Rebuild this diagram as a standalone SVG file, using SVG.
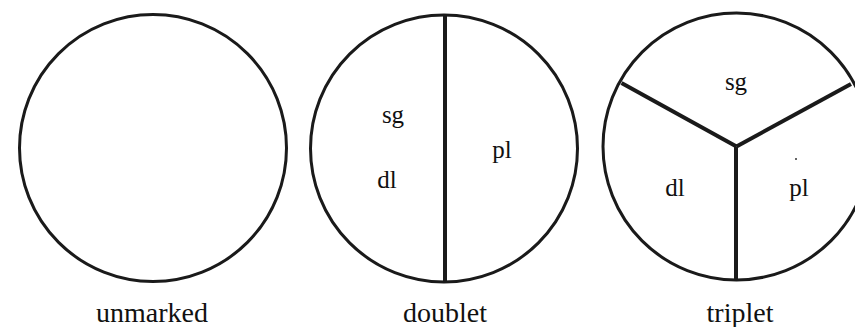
<svg xmlns="http://www.w3.org/2000/svg" width="855" height="327" viewBox="0 0 855 327">
<style>
.c{fill:none;stroke:#1a1a1a;stroke-width:3}
.d{stroke:#1a1a1a;stroke-width:4;stroke-linecap:butt}
.t{font-family:"Liberation Serif",serif;fill:#111;text-anchor:middle}
.cap{font-size:28px}
.in{font-size:25px}
</style>
<rect width="855" height="327" fill="#fff"/>
<g id="unmarked">
<circle class="c" cx="153" cy="148" r="133.5"/>
<text class="t cap" x="152" y="322">unmarked</text>
</g>
<g id="doublet">
<circle class="c" cx="444" cy="148.5" r="133.5"/>
<line class="d" x1="445" y1="15" x2="445" y2="282"/>
<text class="t in" x="393" y="123">sg</text>
<text class="t in" x="387" y="188">dl</text>
<text class="t in" x="502" y="158">pl</text>
<text class="t cap" x="445" y="322">doublet</text>
</g>
<g id="triplet">
<circle class="c" cx="736.5" cy="146.5" r="133.5"/>
<line class="d" x1="736.5" y1="146.5" x2="621.5" y2="83"/>
<line class="d" x1="736.5" y1="146.5" x2="851" y2="84"/>
<line class="d" x1="736" y1="146.5" x2="736" y2="280"/>
<text class="t in" x="736" y="90">sg</text>
<text class="t in" x="675" y="196">dl</text>
<text class="t in" x="799" y="196">pl</text>
<circle cx="796" cy="159" r="1" fill="#333"/>
<text class="t cap" x="740" y="322">triplet</text>
</g>
</svg>
